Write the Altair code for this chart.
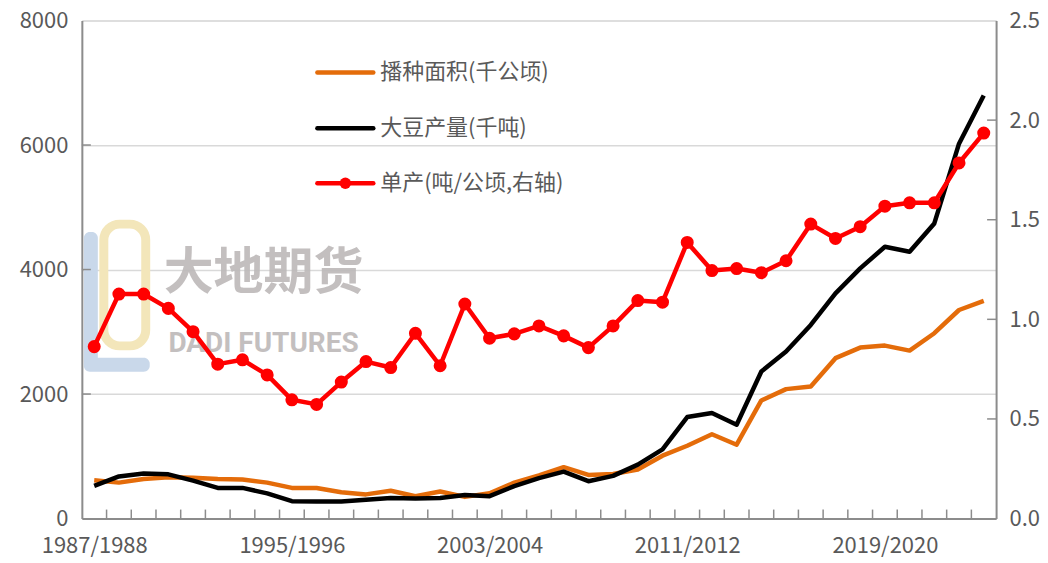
import json
import altair as alt
import pandas as pd

# ---- data ----
seasons = [f"{y}/{y + 1}" for y in range(1987, 2024)]

area = [615, 577, 635, 664, 655, 635, 626, 577, 492, 492,
        423, 388, 446, 359, 434, 348, 405, 577, 693, 825,
        700, 715, 788, 1010, 1170, 1355, 1186, 1897, 2079, 2121,
        2576, 2746, 2778, 2698, 2977, 3350, 3495]

production = [525, 676, 722, 710, 609, 492, 492, 405, 279, 272,
              272, 301, 330, 322, 330, 377, 359, 521, 648, 755,
              600, 685, 866, 1110, 1630, 1694, 1507, 2362, 2682, 3110,
              3618, 4019, 4365, 4285, 4740, 6022, 6797]

yields = [0.863, 1.127, 1.127, 1.055, 0.938, 0.775, 0.797, 0.721, 0.596, 0.573,
          0.685, 0.788, 0.758, 0.930, 0.767, 1.077, 0.905, 0.927, 0.967, 0.917,
          0.858, 0.967, 1.094, 1.086, 1.386, 1.245, 1.255, 1.234, 1.294, 1.478,
          1.406, 1.465, 1.568, 1.585, 1.585, 1.785, 1.935]

left_ticks = [0, 2000, 4000, 6000, 8000]
right_ticks = [0.0, 0.5, 1.0, 1.5, 2.0, 2.5]
x_label_idx = [0, 8, 16, 24, 32]

legend_labels = ["播种面积(千公顷)", "大豆产量(千吨)", "单产(吨/公顷,右轴)"]
legend_colors = ["#E46C0A", "#000000", "#FF0000"]

W, H = 916, 499
FONT = "Noto Sans CJK SC"
AXIS_GRAY = "#8C8C8C"
LABEL_GRAY = "#595959"

df = pd.DataFrame({"idx": list(range(len(seasons))), "season": seasons,
                   "area": area, "prod": production, "yield": yields})

x_scale = alt.Scale(domain=[-0.5, len(seasons) - 0.5], nice=False, zero=False)
label_expr = json.dumps(seasons) + "[datum.value]"

x_enc = alt.X("idx:Q", scale=x_scale,
              axis=alt.Axis(values=x_label_idx, labelExpr=label_expr, title=None,
                            grid=False, ticks=False, labelPadding=17,
                            labelFontSize=22, labelColor=LABEL_GRAY, labelFont=FONT,
                            domainColor=AXIS_GRAY, domainWidth=2))

base = alt.Chart(df)
one = pd.DataFrame({"t": ["x"]})

# ---- watermark (logo + text) ----
logo_yellow = alt.Chart(one).mark_rect(
    fill=None, stroke="#F3E6BA", strokeWidth=9, cornerRadius=16).encode(
    x=alt.value(22), x2=alt.value(64), y=alt.value(204), y2=alt.value(326))
logo_blue1 = alt.Chart(one).mark_rect(fill="#C9D8EA", cornerRadius=6).encode(
    x=alt.value(2), x2=alt.value(16), y=alt.value(212), y2=alt.value(350))
logo_blue2 = alt.Chart(one).mark_rect(fill="#C9D8EA", cornerRadius=6).encode(
    x=alt.value(2), x2=alt.value(68), y=alt.value(338), y2=alt.value(352))
wm1 = alt.Chart(pd.DataFrame({"t": ["大地期货"]})).mark_text(
    font=FONT, fontSize=50, fontWeight="bold", color="#BDB9B9", opacity=0.9,
    align="center", baseline="middle").encode(
    x=alt.value(182), y=alt.value(254), text="t:N")
wm2 = alt.Chart(pd.DataFrame({"t": ["DADI FUTURES"]})).mark_text(
    font="Roboto", fontSize=28, fontWeight="bold", color="#BDB9B9", opacity=0.9,
    align="center", baseline="middle").encode(
    x=alt.value(182), y=alt.value(324), text="t:N")

# ---- left-scale layer ----
orange = base.mark_line(color=legend_colors[0], strokeWidth=4.5, strokeJoin="round").encode(
    x=x_enc,
    y=alt.Y("area:Q", scale=alt.Scale(domain=[0, 8000], nice=False),
            axis=alt.Axis(values=left_ticks, format="d", title=None, grid=True,
                          gridColor="#D9D9D9", gridWidth=1.5, ticks=False, labelPadding=14,
                          labelFontSize=22, labelColor=LABEL_GRAY, labelFont=FONT,
                          domainColor=AXIS_GRAY, domainWidth=2)))
black = base.mark_line(color=legend_colors[1], strokeWidth=4.5, strokeJoin="round").encode(
    x=alt.X("idx:Q", title=None), y=alt.Y("prod:Q", title=None))

lt = alt.Chart(pd.DataFrame({"v": left_ticks[1:-1]})).mark_rule(
    color=AXIS_GRAY, strokeWidth=1.5).encode(
    y=alt.Y("v:Q", title=None), x=alt.value(0), x2=alt.value(9))
xt = alt.Chart(pd.DataFrame({"b": [k + 0.5 for k in range(len(seasons) - 1)]})).mark_rule(
    color=AXIS_GRAY, strokeWidth=1.5).encode(
    x=alt.X("b:Q", title=None), y=alt.value(H - 9), y2=alt.value(H))

# ---- custom legend ----
leg_layers = []
leg_y = [52, 108, 163]
for lab, col, yy in zip(legend_labels, legend_colors, leg_y):
    d = pd.DataFrame({"t": [lab]})
    leg_layers.append(alt.Chart(d).mark_rule(color=col, strokeWidth=4.5, strokeCap="round").encode(
        x=alt.value(236), x2=alt.value(292), y=alt.value(yy)))
    leg_layers.append(alt.Chart(d).mark_text(
        font=FONT, fontSize=22, color=LABEL_GRAY, align="left", baseline="middle").encode(
        x=alt.value(299), y=alt.value(yy), text="t:N"))
leg_layers.append(alt.Chart(one).mark_circle(
    color=legend_colors[2], size=130, opacity=1).encode(x=alt.value(264), y=alt.value(leg_y[2])))

left = alt.layer(logo_yellow, logo_blue1, logo_blue2, wm1, wm2,
                 orange, black, lt, xt, *leg_layers)

# ---- right-scale layer ----
red_line = base.mark_line(color=legend_colors[2], strokeWidth=4.5, strokeJoin="round").encode(
    x=alt.X("idx:Q", title=None),
    y=alt.Y("yield:Q", scale=alt.Scale(domain=[0, 2.5], nice=False),
            axis=alt.Axis(orient="right", values=right_ticks, format=".1f", title=None,
                          grid=False, ticks=False, labelPadding=13, labelFontSize=22,
                          labelColor=LABEL_GRAY, labelFont=FONT,
                          domainColor=AXIS_GRAY, domainWidth=2)))
red_pts = base.mark_circle(color=legend_colors[2], size=170, opacity=1).encode(
    x=alt.X("idx:Q", title=None), y=alt.Y("yield:Q", title=None))
rt = alt.Chart(pd.DataFrame({"v": right_ticks[1:-1]})).mark_rule(
    color=AXIS_GRAY, strokeWidth=1.5).encode(
    y=alt.Y("v:Q", title=None), x=alt.value(W - 9), x2=alt.value(W))

right = alt.layer(rt, red_line, red_pts)

chart = alt.layer(left, right).resolve_scale(y="independent").properties(
    width=W, height=H,
    padding={"left": 74, "top": 12, "right": 44, "bottom": 42},
    autosize=alt.AutoSizeParams(type="none"),
).configure_view(stroke=None).configure(background="white")

chart.save("out.html", embed_options={"renderer": "svg", "actions": False})
